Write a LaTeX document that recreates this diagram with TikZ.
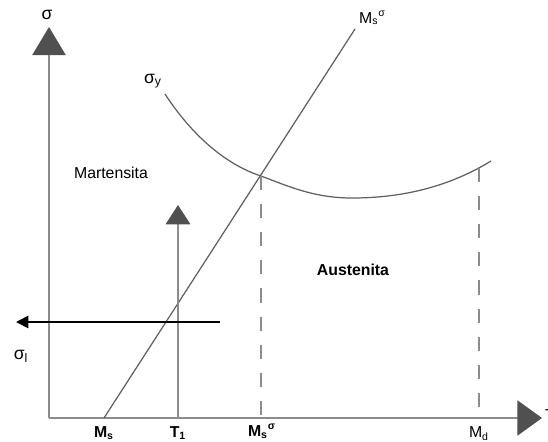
\documentclass[tikz,border=0pt]{standalone}
\usepackage{fontspec}
\setmainfont{Liberation Sans}
\usetikzlibrary{arrows.meta}
\definecolor{axisgray}{RGB}{140,140,140}
\definecolor{linegray}{RGB}{95,95,95}
\definecolor{headgray}{RGB}{80,80,80}
\tikzset{
    axis/.style={draw=axisgray, line width=0.8pt},
    head/.style 2 args={-{Triangle[length=#1, width=#2, color=headgray]}},
    curve/.style={draw=linegray, line width=0.7pt},
    guide/.style={draw=axisgray, line width=0.7pt, dash pattern=on 8pt off 8pt},
    lbl/.style={font=\small, inner sep=1pt},
    tick/.style={font=\small\bfseries, inner sep=1pt}
}

\begin{document}
\begin{tikzpicture}[x=0.02cm, y=-0.02cm]
    \useasboundingbox (0,0) rectangle (548,441);

    % axes
    \coordinate (O) at (49,418);
    \coordinate (ytop) at (49,27);
    \coordinate (xend) at (542,418);
    \draw[axis, head={16pt}{19pt}] (O) -- (ytop);
    \draw[axis, head={14pt}{20pt}] (O) -- (xend);
    \node[lbl, font=\normalsize] (sigma) at (47,15) {σ};
    \node[lbl, anchor=west] (T) at (543,415) {T};

    % Ms line
    \coordinate (msbot) at (104,418);
    \coordinate (mstop) at (355,29);
    \draw[curve] (msbot) -- (mstop);
    \node[lbl, anchor=south west] (msig) at (357,27) {M\textsubscript{s}\textsuperscript{σ}};

    % yield curve
    \coordinate (cs) at (165,94);
    \coordinate (cx) at (261,176);
    \coordinate (cm) at (352,198);
    \coordinate (ce) at (491,161);
    \draw[curve] (cs) .. controls (195,140) and (230,166) .. (cx)
        .. controls (290,187) and (315,198) .. (cm)
        .. controls (410,198) and (455,183) .. (ce);
    \node[lbl, font=\normalsize] (sy) at (153,81) {σ\textsubscript{y}};

    % guides
    \coordinate (mdtop) at (479,168);
    \coordinate (mdbot) at (479,418);
    \coordinate (cxbot) at (261,418);
    \draw[guide] (cx) -- (cxbot);
    \draw[guide] (mdtop) -- (mdbot);

    % T1 path
    \coordinate (t1bot) at (178,418);
    \coordinate (t1top) at (178,205);
    \draw[axis, head={11pt}{14pt}] (t1bot) -- (t1top);

    % applied stress
    \coordinate (arrs) at (220,322);
    \coordinate (arre) at (16,322);
    \draw[black, line width=1pt, -{Triangle[length=7pt, width=7pt]}] (arrs) -- (arre);
    \node[lbl, font=\normalsize] (s1) at (21,356) {σ\textsubscript{l}};

    % regions
    \node[lbl] (mart) at (111,173) {Martensita};
    \node[lbl, font=\small\bfseries] (aust) at (353,270) {Austenita};

    % ticks
    \node[tick, anchor=north] (ms) at (104,425) {M\textsubscript{s}};
    \node[tick, anchor=north] (t1) at (178,425) {T\textsubscript{1}};
    \node[tick, anchor=north] (mss) at (262,422) {M\textsubscript{s}\textsuperscript{σ}};
    \node[lbl, anchor=north] (md) at (479,425) {M\textsubscript{d}};
\end{tikzpicture}
\end{document}
